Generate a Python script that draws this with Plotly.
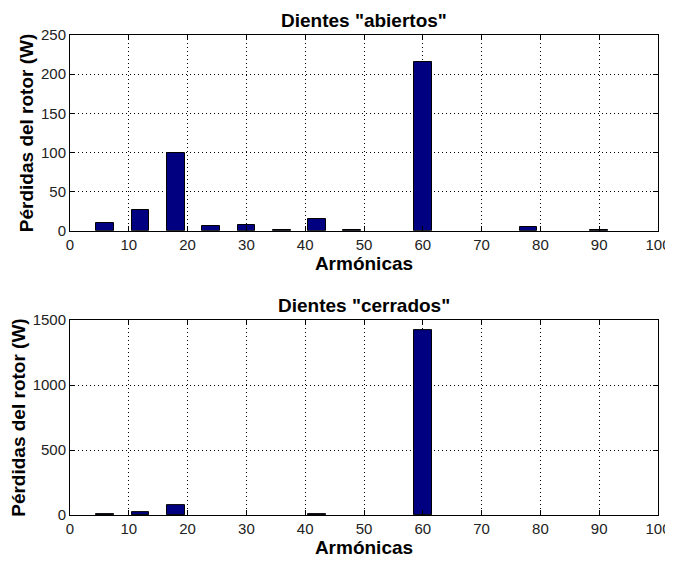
import plotly.graph_objects as go
from plotly.subplots import make_subplots

harmonics = [6, 12, 18, 24, 30, 36, 42, 48, 54, 60, 66, 72, 78, 84, 90]
perdidas_abiertos = [10, 27, 99, 6.5, 8, 1.7, 14.5, 1.7, 0, 216, 0, 0, 5, 0, 1.7]
perdidas_cerrados = [10, 20, 77, 0, 0, 0, 10, 0, 0, 1420, 0, 0, 0, 0, 0]
titles = ['Dientes "abiertos"', 'Dientes "cerrados"']
xlabel = "Armónicas"
ylabel = "Pérdidas del rotor (W)"
xticks = [0, 10, 20, 30, 40, 50, 60, 70, 80, 90, 100]
yticks_top = [0, 50, 100, 150, 200, 250]
yticks_bot = [0, 500, 1000, 1500]

FONT = "Liberation Sans, Arial, Helvetica, sans-serif"
BAR = "#000080"

fig = make_subplots(rows=2, cols=1)
for r, vals in enumerate([perdidas_abiertos, perdidas_cerrados], start=1):
    line_cols = ["black" if v > 0 else "rgba(0,0,0,0)" for v in vals]
    fig.add_trace(go.Bar(x=harmonics, y=vals, width=3,
                         marker=dict(color=BAR, line=dict(color=line_cols, width=1))),
                  row=r, col=1)

axis_common = dict(
    showline=True, linecolor="black", linewidth=1, mirror="ticks",
    ticks="inside", ticklen=5, tickcolor="black",
    showgrid=True, gridcolor="black", gridwidth=1, griddash="1px,3px",
    zeroline=False, automargin=False,
    tickfont=dict(family=FONT, size=15, color="#222"),
)

for r, (yt, yr) in enumerate([(yticks_top, [0, 250]), (yticks_bot, [0, 1500])], start=1):
    fig.update_xaxes(range=[0, 100], tickvals=xticks, ticktext=[str(v) for v in xticks],
                     title=dict(text="<b>" + xlabel + "</b>", font=dict(family=FONT, size=19, color="black"),
                                standoff=2),
                     row=r, col=1, **axis_common)
    fig.update_yaxes(range=yr, tickvals=yt, ticktext=[str(v) for v in yt],
                     title=dict(text="<b>" + ylabel + "</b>", font=dict(family=FONT, size=19, color="black"),
                                standoff=2),
                     row=r, col=1, **axis_common)

fig.update_layout(
    xaxis=dict(domain=[0, 1]), xaxis2=dict(domain=[0, 1]),
    yaxis=dict(domain=[0.592, 1.0]), yaxis2=dict(domain=[0.0, 0.406]),
)

for title, ydom in zip(titles, [1.0, 0.406]):
    fig.add_annotation(text="<b>" + title + "</b>", x=0.5, xref="paper", y=ydom, yref="paper",
                       yanchor="bottom", xanchor="center", showarrow=False, yshift=2,
                       font=dict(family=FONT, size=19, color="black"))

fig.update_layout(
    width=665, height=558,
    margin=dict(l=62, r=14.5, t=26.5, b=51),
    plot_bgcolor="white", paper_bgcolor="white",
    showlegend=False, bargap=0,
)

fig.write_html("out.html")
